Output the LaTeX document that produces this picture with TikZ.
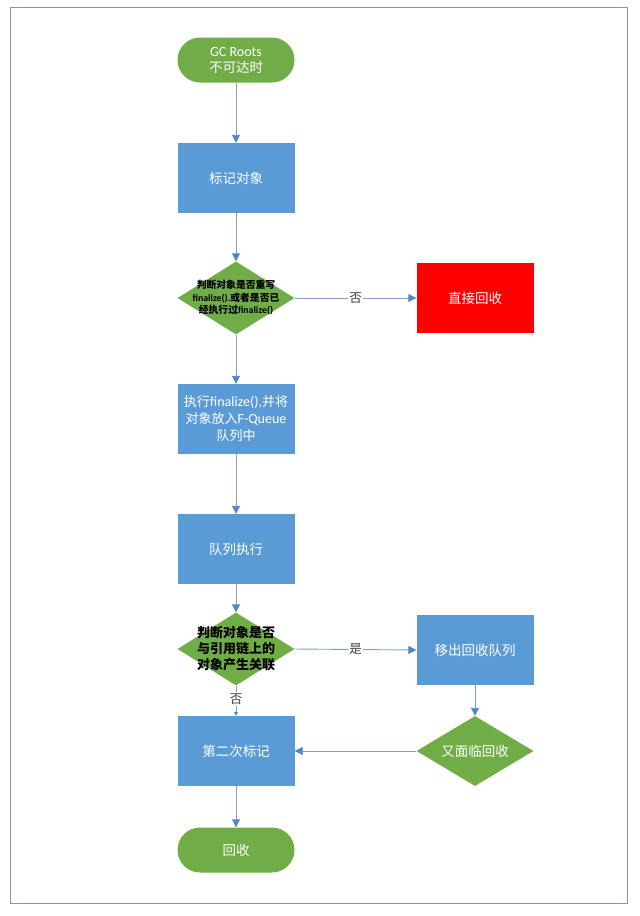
\documentclass[tikz,border=0pt]{standalone}
\usepackage{fontspec}
\setmainfont{Noto Sans CJK SC}
\newfontfamily\lat{Carlito}
\usetikzlibrary{shapes.geometric,shapes.misc,arrows.meta}
\definecolor{boxblue}{HTML}{5B9BD5}
\definecolor{boxgreen}{HTML}{70AD47}
\definecolor{boxred}{HTML}{FF0000}
\definecolor{lineblue}{HTML}{7FA0C8}
\definecolor{tipblue}{HTML}{4F86C6}
\definecolor{framegray}{HTML}{8C93A8}
\tikzset{
  proc/.style={rectangle, fill=boxblue, draw=none, minimum width=117pt, minimum height=70pt, inner sep=0pt, text=white, align=center, font=\fontsize{13.5}{16}\selectfont},
  term/.style={rounded rectangle, fill=boxgreen, draw=none, minimum width=117pt, minimum height=45pt, inner sep=0pt, text=white, align=center, font=\fontsize{13.5}{16}\selectfont},
  dec/.style={diamond, fill=boxgreen, draw=none, minimum width=117pt, minimum height=73pt, inner sep=0pt},
  dectext/.style={align=center, inner sep=0pt},
  conn/.style={draw=lineblue, line width=0.9pt, -{Triangle[length=8pt,width=8pt,color=tipblue]}},
  lab/.style={fill=white, inner sep=1.5pt, text=black!75, font=\fontsize{12.5}{13}\selectfont}
}
\begin{document}
\begin{tikzpicture}[x=1pt,y=-1pt]
\useasboundingbox (0,0) rectangle (640,916);
\draw[framegray, line width=0.8pt] (10,7) rectangle (627,903);

\node[term] (gc) at (236,60) {{\lat\fontsize{14}{16}\selectfont GC Roots}\\不可达时};
\node[proc] (mark) at (236,178) {标记对象};
\node[dec] (d1) at (236,298) {};
\node[dectext, font=\bfseries\fontsize{9.8}{12.5}\selectfont] (d1t) at (236,298) {判断对象是否重写\\{\lat\bfseries finalize().}或者是否已\\经执行过{\lat\bfseries finalize()}};
\node[proc, fill=boxred] (direct) at (475,298) {直接回收};
\node[proc, font=\fontsize{13}{17}\selectfont] (exec) at (236,419) {执行{\lat\fontsize{14}{17}\selectfont finalize(),}并将\\对象放入{\lat\fontsize{14}{17}\selectfont F-Queue}\\队列中};
\node[proc] (queue) at (236,549) {队列执行};
\node[dec] (d2) at (236,649) {};
\node[dectext, font=\bfseries\fontsize{13}{16}\selectfont] (d2t) at (236,649) {判断对象是否\\与引用链上的\\对象产生关联};
\node[proc] (remove) at (475,650) {移出回收队列};
\node[dec, minimum height=70pt] (again) at (475,751) {};
\node[dectext, text=white, font=\fontsize{13.5}{16}\selectfont] (againt) at (475,751) {又面临回收};
\node[proc] (second) at (236,751) {第二次标记};
\node[term] (rec) at (236,850) {回收};

\draw[conn] (gc.south) -- (mark.north);
\draw[conn] (mark.south) -- (d1.north);
\draw[conn] (d1.east) -- node[lab] (l1) {否} (direct.west);
\draw[conn] (d1.south) -- (exec.north);
\draw[conn] (exec.south) -- (queue.north);
\draw[conn] (queue.south) -- (d2.north);
\draw[conn] (d2.east) -- node[lab] (l2) {是} (remove.west);
\draw[draw=lineblue, line width=0.9pt, -{Triangle[length=4pt,width=4pt,color=tipblue]}] (d2.south) -- node[lab, pos=0.45] (l3) {否} (second.north);
\draw[conn] (remove.south) -- (again.north);
\draw[conn] (again.west) -- (second.east);
\draw[conn] (second.south) -- (rec.north);
\end{tikzpicture}
\end{document}
